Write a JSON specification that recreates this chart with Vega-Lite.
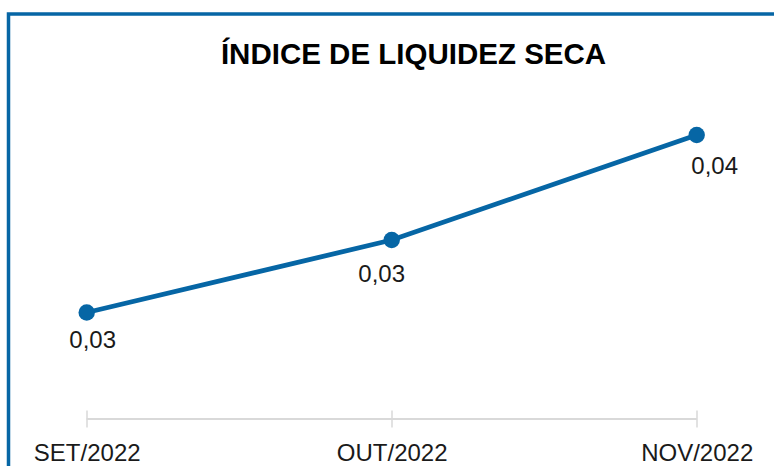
{
  "$schema": "https://vega.github.io/schema/vega-lite/v6.json",
  "width": 800,
  "height": 470,
  "autosize": {"type": "none"},
  "padding": {"left": 8.5, "top": 14, "right": 0, "bottom": 0},
  "background": "white",
  "title": {
    "text": "ÍNDICE DE LIQUIDEZ SECA",
    "font": "Liberation Sans",
    "fontSize": 29.5,
    "fontWeight": "bold",
    "color": "#000000",
    "anchor": "middle",
    "frame": "group",
    "orient": "top",
    "offset": -79,
    "baseline": "alphabetic",
    "dx": 5
  },
  "config": {"view": {"stroke": "#0666a5", "strokeWidth": 3.5}},
  "data": {
    "values": [
      {"mes": "SET/2022", "v": 0.0275, "rotulo": "0,03"},
      {"mes": "OUT/2022", "v": 0.0326, "rotulo": "0,03"},
      {"mes": "NOV/2022", "v": 0.0400, "rotulo": "0,04"}
    ]
  },
  "encoding": {
    "x": {
      "field": "mes",
      "type": "ordinal",
      "sort": null,
      "scale": {"type": "point", "domain": ["SET/2022", "OUT/2022", "NOV/2022"], "padding": 0.3115, "align": 0.4116}
    },
    "y": {
      "field": "v",
      "type": "quantitative",
      "scale": {"domain": [0.01542, 0.04852], "nice": false, "zero": false},
      "axis": null
    }
  },
  "layer": [
    {
      "mark": {"type": "rule", "color": "#d9d9d9", "strokeWidth": 1.5},
      "encoding": {
        "x": {"datum": "SET/2022", "type": "ordinal", "axis": null},
        "x2": {"datum": "NOV/2022"},
        "y": {"datum": 0.02, "type": "quantitative"}
      }
    },
    {
      "mark": {"type": "line", "color": "#0666a5", "strokeWidth": 4.8},
      "encoding": {
        "x": {
          "field": "mes",
          "type": "ordinal",
          "sort": null,
          "title": null,
          "axis": {
            "orient": "bottom",
            "offset": -65,
            "domain": false,
            "ticks": false,
            "tickSize": 0,
            "labelPadding": 22,
            "labelAngle": 0,
            "labelFont": "Liberation Sans",
            "labelFontSize": 24,
            "labelColor": "#1a1a1a",
            "grid": false
          }
        }
      }
    },
    {
      "mark": {"type": "circle", "color": "#0666a5", "size": 270, "opacity": 1},
      "encoding": {
        "x": {
          "field": "mes",
          "type": "ordinal",
          "sort": null,
          "title": null,
          "axis": {
            "orient": "bottom",
            "offset": -74,
            "domain": false,
            "labels": false,
            "ticks": true,
            "tickSize": 17,
            "tickColor": "#d9d9d9",
            "tickWidth": 1.5,
            "grid": false
          }
        }
      }
    },
    {
      "transform": [{"filter": "datum.mes == 'SET/2022'"}],
      "mark": {"type": "text", "font": "Liberation Sans", "fontSize": 24, "color": "#1a1a1a", "baseline": "top", "align": "center", "dx": 6, "dy": 17},
      "encoding": {"x": {"field": "mes", "type": "ordinal", "sort": null, "axis": null}, "text": {"field": "rotulo"}}
    },
    {
      "transform": [{"filter": "datum.mes == 'OUT/2022'"}],
      "mark": {"type": "text", "font": "Liberation Sans", "fontSize": 24, "color": "#1a1a1a", "baseline": "top", "align": "center", "dx": -10, "dy": 23},
      "encoding": {"x": {"field": "mes", "type": "ordinal", "sort": null, "axis": null}, "text": {"field": "rotulo"}}
    },
    {
      "transform": [{"filter": "datum.mes == 'NOV/2022'"}],
      "mark": {"type": "text", "font": "Liberation Sans", "fontSize": 24, "color": "#1a1a1a", "baseline": "top", "align": "center", "dx": 18, "dy": 20},
      "encoding": {"x": {"field": "mes", "type": "ordinal", "sort": null, "axis": null}, "text": {"field": "rotulo"}}
    }
  ],
  "resolve": {"axis": {"x": "independent"}}
}
